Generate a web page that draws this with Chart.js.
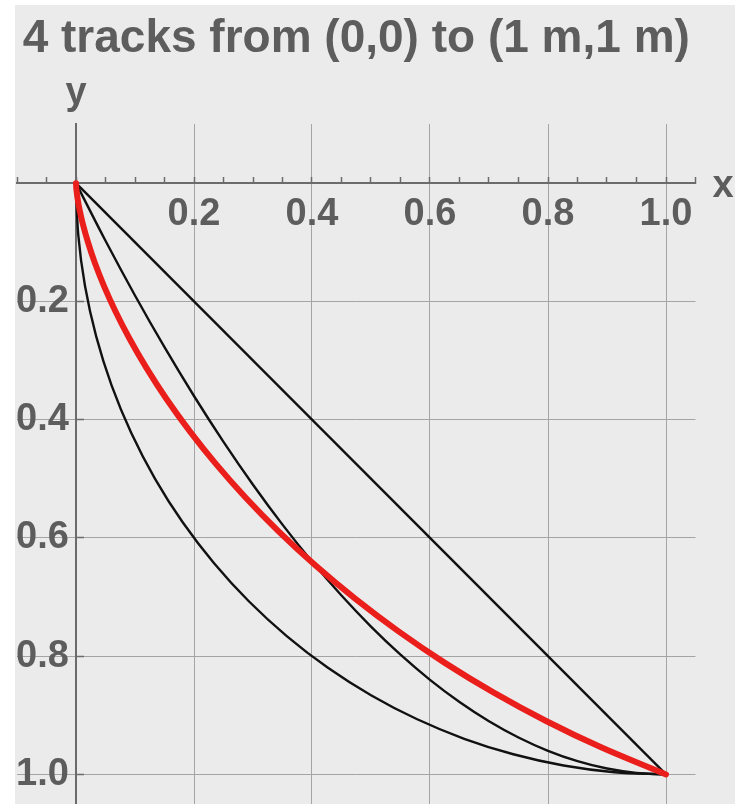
<!DOCTYPE html>
<html>
<head>
<meta charset="utf-8">
<script src="https://cdn.jsdelivr.net/npm/chart.js@4.4.1/dist/chart.umd.min.js"></script>
<style>
  html, body { margin: 0; padding: 0; background: #ffffff; overflow: hidden; }
  #c { display: block; }
</style>
</head>
<body>
<canvas id="c" width="739" height="804"></canvas>
<script>
// ---- data ----
const titleText = '4 tracks from (0,0) to (1 m,1 m)';
const xAxisName = 'x';
const yAxisName = 'y';

// straight track
const lineX = [0, 1];
const lineY = [0, 1];

// parabolic track
const parabolaX = [0, 0.05, 0.1, 0.15, 0.2, 0.25, 0.3, 0.35, 0.4, 0.45, 0.5, 0.55, 0.6, 0.65, 0.7, 0.75, 0.8, 0.85, 0.9, 0.95, 1.0];
const parabolaY = [0, 0.0975, 0.19, 0.2775, 0.36, 0.4375, 0.51, 0.5775, 0.64, 0.6975, 0.75, 0.7975, 0.84, 0.8775, 0.91, 0.9375, 0.96, 0.9775, 0.99, 0.9975, 1.0];

// circular-arc track
const circleX = [0, 0.0038, 0.0152, 0.0341, 0.0603, 0.0937, 0.1340, 0.1808, 0.2340, 0.2929, 0.3572, 0.4264, 0.5, 0.5774, 0.6580, 0.7412, 0.8264, 0.9128, 1.0];
const circleY = [0, 0.0872, 0.1736, 0.2588, 0.3420, 0.4226, 0.5, 0.5736, 0.6428, 0.7071, 0.7660, 0.8192, 0.8660, 0.9063, 0.9397, 0.9659, 0.9848, 0.9962, 1.0];

// cycloid track (red)
const cycloidX = [0, 0.0001, 0.0008, 0.0026, 0.0061, 0.0118, 0.0203, 0.0319, 0.0473, 0.0668, 0.0908, 0.1196, 0.1534, 0.1927, 0.2374, 0.2877, 0.3438, 0.4056, 0.4731, 0.5461, 0.6245, 0.7082, 0.7968, 0.8900, 1.0];
const cycloidY = [0, 0.0029, 0.0114, 0.0256, 0.0452, 0.0701, 0.1000, 0.1347, 0.1737, 0.2167, 0.2632, 0.3129, 0.3651, 0.4194, 0.4753, 0.5321, 0.5893, 0.6464, 0.7027, 0.7577, 0.8109, 0.8617, 0.9096, 0.9541, 1.0];

// axis ticks
const xMinorTicks = [-0.1, -0.05, 0, 0.05, 0.1, 0.15, 0.2, 0.25, 0.3, 0.35, 0.4, 0.45, 0.5, 0.55, 0.6, 0.65, 0.7, 0.75, 0.8, 0.85, 0.9, 0.95, 1.0, 1.05];
const xMajorTicks = [0.2, 0.4, 0.6, 0.8, 1.0];
const xTickLabels = ['0.2', '0.4', '0.6', '0.8', '1.0'];
const yMajorTicks = [0.2, 0.4, 0.6, 0.8, 1.0];
const yTickLabels = ['0.2', '0.4', '0.6', '0.8', '1.0'];
const xRange = [-0.1, 1.05];
const yRange = [-0.1, 1.05];

// ---- helpers ----
const pts = (xs, ys) => xs.map((v, i) => ({ x: v, y: ys[i] }));
const near = (a, b) => Math.abs(a - b) < 1e-6;
const majorIndex = (list, v) => list.findIndex(t => near(t, v));

const FONT = "'Liberation Sans', Arial, Helvetica, sans-serif";
const TEXT = '#5d5d5d';
const GRID = '#a4a4a4';
const AXIS = '#6b6b6b';
const TICK_FONT = { family: FONT, size: 38, weight: 'bold' };

const noPadY = (scale) => { scale.paddingTop = 0; scale.paddingBottom = 0; scale.width = 0; };

const bgPlugin = {
  id: 'panelBg',
  beforeDraw(chart) {
    const ctx = chart.ctx;
    ctx.save();
    ctx.fillStyle = '#ffffff';
    ctx.fillRect(0, 0, chart.width, chart.height);
    ctx.fillStyle = '#ebebeb';
    ctx.fillRect(15, 5, 720, chart.height - 5);
    ctx.restore();
  }
};

const axisNamePlugin = {
  id: 'axisNames',
  afterDraw(chart) {
    const ctx = chart.ctx;
    const xs = chart.scales.x, ys = chart.scales.y;
    ctx.save();
    ctx.fillStyle = TEXT;
    ctx.font = 'bold 38px ' + FONT;
    ctx.textBaseline = 'alphabetic';
    ctx.textAlign = 'center';
    ctx.fillText(yAxisName, xs.getPixelForValue(0), ys.top - 20);
    ctx.textAlign = 'left';
    ctx.fillText(xAxisName, xs.right + 17, ys.getPixelForValue(0) + 14);
    ctx.restore();
  }
};

new Chart(document.getElementById('c'), {
  type: 'scatter',
  data: {
    datasets: [
      { label: 'cycloid', data: pts(cycloidX, cycloidY), borderColor: '#ea1f1b', borderWidth: 6, borderCapStyle: 'round', borderJoinStyle: 'round', tension: 0.35 },
      { label: 'line', data: pts(lineX, lineY), borderColor: '#111111', borderWidth: 2.4 },
      { label: 'parabola', data: pts(parabolaX, parabolaY), borderColor: '#111111', borderWidth: 2.4, tension: 0.35 },
      { label: 'circle', data: pts(circleX, circleY), borderColor: '#111111', borderWidth: 2.4, tension: 0.35 }
    ]
  },
  options: {
    responsive: false,
    animation: false,
    devicePixelRatio: 1,
    showLine: true,
    elements: { point: { radius: 0, hoverRadius: 0 }, line: { fill: false, capBezierPoints: true } },
    layout: { padding: { left: 17, right: 43.5, top: 0, bottom: 0 } },
    plugins: {
      legend: { display: false },
      tooltip: { enabled: false },
      title: {
        display: true,
        text: titleText,
        align: 'center',
        color: TEXT,
        font: { family: FONT, size: 46, weight: 'bold', lineHeight: 1.2 },
        padding: { top: 12, bottom: 56.8 }
      }
    },
    scales: {
      x: {
        type: 'linear',
        position: { y: 0 },
        min: xRange[0],
        max: xRange[1],
        afterBuildTicks: (scale) => { scale.ticks = xMinorTicks.map(v => ({ value: v })); },
        afterFit: (scale) => { scale.height = 0; scale.paddingLeft = 0; scale.paddingRight = 0; },
        border: { display: true, color: AXIS, width: 2 },
        grid: {
          drawTicks: true,
          tickLength: -7,
          lineWidth: 1,
          color: (c) => (c.tick && majorIndex(xMajorTicks, c.tick.value) >= 0) ? GRID : 'rgba(0,0,0,0)',
          tickColor: AXIS,
          tickWidth: 1.5
        },
        ticks: {
          autoSkip: false,
          maxRotation: 0,
          minRotation: 0,
          padding: 16,
          color: TEXT,
          font: TICK_FONT,
          callback: (v) => { const i = majorIndex(xMajorTicks, v); return i >= 0 ? xTickLabels[i] : ''; }
        }
      },
      y: {
        type: 'linear',
        reverse: true,
        position: { x: 0 },
        min: yRange[0],
        max: yRange[1],
        afterBuildTicks: (scale) => { scale.ticks = yMajorTicks.map(v => ({ value: v })); },
        afterFit: noPadY,
        border: { display: true, color: AXIS, width: 2 },
        grid: {
          drawTicks: true,
          tickLength: -9,
          lineWidth: 1,
          color: GRID,
          tickColor: AXIS,
          tickWidth: 1.5
        },
        ticks: { display: false }
      },
      yLabels: {
        type: 'linear',
        reverse: true,
        position: { x: -0.012 },
        min: yRange[0],
        max: yRange[1],
        afterBuildTicks: (scale) => { scale.ticks = yMajorTicks.map(v => ({ value: v })); },
        afterFit: noPadY,
        border: { display: false },
        grid: { display: false, drawTicks: false },
        ticks: {
          autoSkip: false,
          padding: 0,
          color: TEXT,
          font: TICK_FONT,
          callback: (v) => { const i = majorIndex(yMajorTicks, v); return i >= 0 ? yTickLabels[i] : ''; }
        }
      }
    }
  },
  plugins: [bgPlugin, axisNamePlugin]
});
</script>
</body>
</html>
